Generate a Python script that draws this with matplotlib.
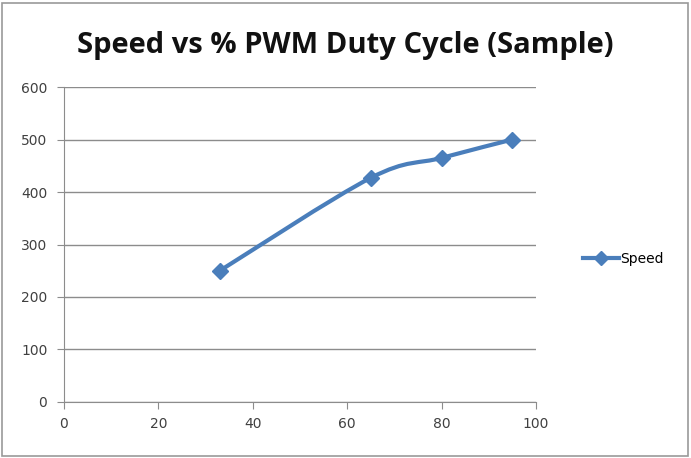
import matplotlib
matplotlib.use("Agg")
import matplotlib.pyplot as plt
from matplotlib.path import Path
from matplotlib.patches import PathPatch, Rectangle
from matplotlib.lines import Line2D

# Data
duty = [33, 65, 80, 95]
speed = [250, 427, 465, 500]
x_ticks = [0, 20, 40, 60, 80, 100]
y_ticks = [0, 100, 200, 300, 400, 500, 600]

blue = "#4A7EBB"

fig = plt.figure(figsize=(6.91, 4.58), dpi=100)
ax = fig.add_axes([0.0926, 0.1223, 0.6831, 0.6877])

# Excel-style smoothed line (Catmull-Rom style bezier through the points)
pts = list(zip(duty, speed))
verts = [pts[0]]
codes = [Path.MOVETO]
for i in range(len(pts) - 1):
    p0 = pts[i - 1] if i > 0 else pts[i]
    p1 = pts[i]
    p2 = pts[i + 1]
    p3 = pts[i + 2] if i + 2 < len(pts) else pts[i + 1]
    c1 = (p1[0] + (p2[0] - p0[0]) / 6, p1[1] + (p2[1] - p0[1]) / 6)
    c2 = (p2[0] - (p3[0] - p1[0]) / 6, p2[1] - (p3[1] - p1[1]) / 6)
    verts += [c1, c2, p2]
    codes += [Path.CURVE4] * 3
ax.add_patch(PathPatch(Path(verts, codes), facecolor="none",
                       edgecolor=blue, lw=3, zorder=3))
ax.plot(duty, speed, ls="none", marker="D", ms=8, color=blue, zorder=4)

ax.set_xlim(0, 100)
ax.set_ylim(0, 600)
ax.set_xticks(x_ticks)
ax.set_yticks(y_ticks)
ax.yaxis.grid(True, color="#8c8c8c", lw=1)
ax.set_axisbelow(True)
for s in ["top", "right"]:
    ax.spines[s].set_visible(False)
for s in ["left", "bottom"]:
    ax.spines[s].set_color("#8c8c8c")
ax.tick_params(axis="both", colors="#8c8c8c", labelcolor="#404040",
               labelsize=10, length=5, direction="out")
ax.tick_params(axis="y", pad=7)
ax.tick_params(axis="x", pad=6)

fig.text(0.5, 0.9, "Speed vs % PWM Duty Cycle (Sample)", ha="center",
         va="center", fontsize=21, fontweight="bold", family="Open Sans",
         color="#111111")

handle = Line2D([], [], color=blue, lw=3, marker="D", ms=7)
fig.legend([handle], ["Speed"], loc="center left",
           bbox_to_anchor=(0.825, 0.435), frameon=False, fontsize=10,
           handlelength=2.6, handletextpad=0.1)

fig.patches.append(Rectangle((0.003, 0.004), 0.992, 0.99,
                             transform=fig.transFigure, fill=False,
                             edgecolor="#999999", lw=1.2))

fig.savefig("out.png", dpi=100)
